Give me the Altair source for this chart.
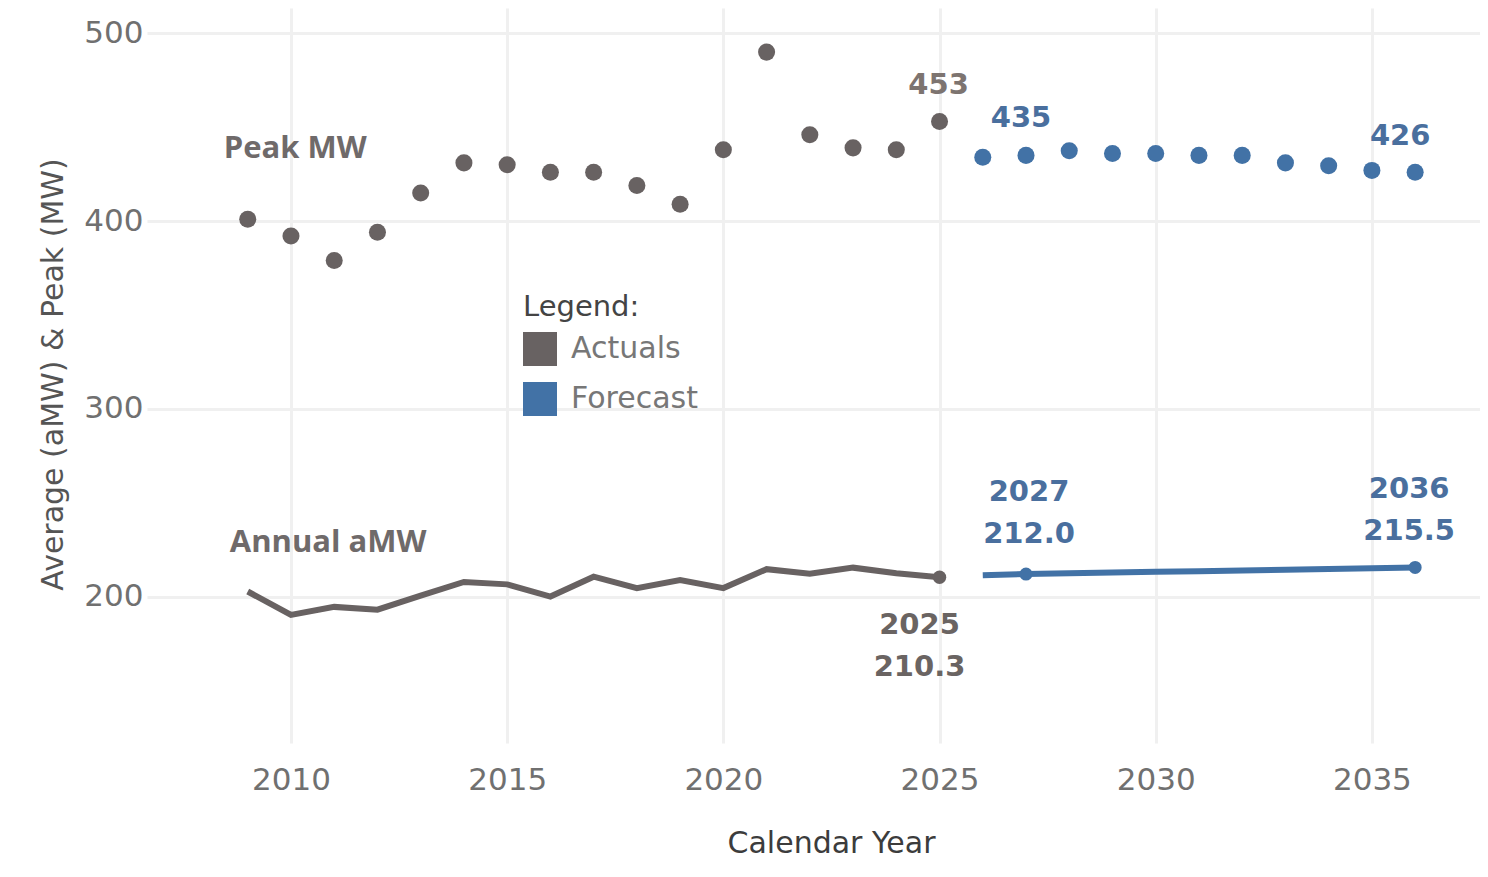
import altair as alt
import pandas as pd

# ---------------- data ----------------
years_actual = list(range(2009, 2026))
peak_actual = [401, 392, 379, 394, 415, 431, 430, 426, 426, 419, 409, 438, 490, 446, 439, 438, 453]
amw_actual = [202.7, 190.2, 194.5, 193.0, 200.5, 207.8, 206.5, 200.0, 210.6, 204.5, 208.8,
              204.5, 214.6, 212.2, 215.4, 212.4, 210.3]

years_forecast = list(range(2026, 2037))
peak_forecast = [434, 435, 437.5, 436, 436, 435, 435, 431, 429.5, 427, 426]
amw_forecast = [211.3, 212.0, 212.4, 212.8, 213.2, 213.5, 213.9, 214.3, 214.7, 215.1, 215.5]

series_types = ["Actuals", "Forecast"]
series_colors = ["#686262", "#4272a6"]

x_ticks = [2010, 2015, 2020, 2025, 2030, 2035]
y_ticks = [200, 300, 400, 500]

series_names = ["Peak MW", "Annual aMW"]
series_name_years = [2010.1, 2010.86]
series_name_values = [438.4, 228.5]

# ---------------- tables ----------------
peak_df = pd.DataFrame({
    "year": years_actual + years_forecast,
    "value": peak_actual + peak_forecast,
    "type": ["Actuals"] * len(years_actual) + ["Forecast"] * len(years_forecast),
})
amw_act_df = pd.DataFrame({"year": years_actual, "value": amw_actual})
amw_fc_df = pd.DataFrame({"year": years_forecast, "value": amw_forecast})

def peak_of(y):
    d = dict(zip(years_actual + years_forecast, peak_actual + peak_forecast))
    return d[y]

def amw_of(y):
    d = dict(zip(years_actual + years_forecast, amw_actual + amw_forecast))
    return d[y]

def peak_label(y):
    return pd.DataFrame({"year": [y], "value": [peak_of(y)], "label": [f"{peak_of(y):.0f}"]})

def amw_label(y):
    return pd.DataFrame({"year": [y], "value": [amw_of(y)], "label": [f"{y}\n{amw_of(y):.1f}"]})

names_df = pd.DataFrame({"year": series_name_years, "value": series_name_values, "label": series_names})

# ---------------- encodings ----------------
REG = "DejaVu Sans"
GRAY_TXT = "#707070"
GRID = "#f0f0f0"

x_enc = alt.X(
    "year:Q",
    scale=alt.Scale(domain=[2006.67, 2037.5], nice=False, zero=False),
    axis=alt.Axis(values=x_ticks, format="d", title="Calendar Year", grid=True,
                  gridColor=GRID, gridWidth=3, domain=False, ticks=False, tickSize=0,
                  labelFont=REG, labelFontSize=31, labelColor=GRAY_TXT, labelPadding=22,
                  titleFont=REG, titleFontSize=30, titleFontWeight="normal", titleColor="#3c3c3c",
                  titleX=684, titleY=85, titleAlign="center", titleBaseline="top"),
)
y_enc = alt.Y(
    "value:Q",
    scale=alt.Scale(domain=[122, 513.5], nice=False, zero=False),
    axis=alt.Axis(values=y_ticks, format="d", title="Average (aMW) & Peak (MW)", grid=True,
                  gridColor=GRID, gridWidth=3, domain=False, ticks=False, tickSize=0,
                  labelFont=REG, labelFontSize=31, labelColor=GRAY_TXT, labelPadding=4,
                  titleFont=REG, titleFontSize=30, titleFontWeight="normal", titleColor="#555555",
                  titleX=-79, titleY=366, titleAngle=270, titleAlign="center", titleBaseline="bottom"),
)

# ---------------- layers ----------------
peak_pts = alt.Chart(peak_df).mark_point(filled=True, size=290, opacity=1, strokeWidth=0).encode(
    x=x_enc, y=y_enc,
    color=alt.Color(
        "type:N",
        scale=alt.Scale(domain=series_types, range=series_colors),
        legend=alt.Legend(
            title="Legend:", orient="none", legendX=376, legendY=285, padding=0, offset=0,
            symbolType="square", symbolSize=1156, symbolStrokeWidth=0, symbolOpacity=1,
            labelFont=REG, labelFontSize=30, labelColor="#777777", labelOffset=14,
            titleFont=REG, titleFontSize=29, titleColor="#444444", titleFontWeight="normal",
            titlePadding=10, rowPadding=16, titleBaseline="top",
        ),
    ),
)

line_act = alt.Chart(amw_act_df).mark_line(color=series_colors[0], strokeWidth=6).encode(x=x_enc, y=y_enc)
line_fc = alt.Chart(amw_fc_df).mark_line(color=series_colors[1], strokeWidth=6).encode(x=x_enc, y=y_enc)

end_act = alt.Chart(amw_label(2025)).mark_point(filled=True, size=180, opacity=1, color=series_colors[0]).encode(x=x_enc, y=y_enc)
end_fc = alt.Chart(pd.concat([amw_label(2027), amw_label(2036)])).mark_point(
    filled=True, size=170, opacity=1, color=series_colors[1]).encode(x=x_enc, y=y_enc)

BOLD = "DejaVu Sans"

def txt(df, color, dx, dy, size=29, font=BOLD):
    return alt.Chart(df).mark_text(font=font, fontSize=size, fontWeight="bold", color=color,
                                   dx=dx, dy=dy, lineBreak="\n", lineHeight=42).encode(
        x=x_enc, y=y_enc, text="label:N")

lab453 = txt(peak_label(2025), "#7d7470", -1, -37)
lab435 = txt(peak_label(2027), "#4a6f9e", -5, -37)
lab426 = txt(peak_label(2036), "#4a6f9e", -15, -36)
lab2025 = txt(amw_label(2025), "#6a6462", -20, 48)
lab2027 = txt(amw_label(2027), "#4a6f9e", 3, -82)
lab2036 = txt(amw_label(2036), "#4a6f9e", -6, -78)

names = alt.Chart(names_df).mark_text(font="Open Sans", fontSize=31, fontWeight="bold",
                                      color="#6f6a6a").encode(x=x_enc, y=y_enc, text="label:N")

chart = alt.layer(
    line_act, line_fc, peak_pts, end_act, end_fc,
    lab453, lab435, lab426, lab2025, lab2027, lab2036, names,
).properties(
    width=1333, height=735,
    autosize=alt.AutoSizeParams(type="none"),
    padding={"left": 139, "top": 0, "right": 0, "bottom": 126},
    background="white",
).configure_view(strokeWidth=0)

chart.save("out.html", embed_options={"renderer": "svg", "actions": False})
